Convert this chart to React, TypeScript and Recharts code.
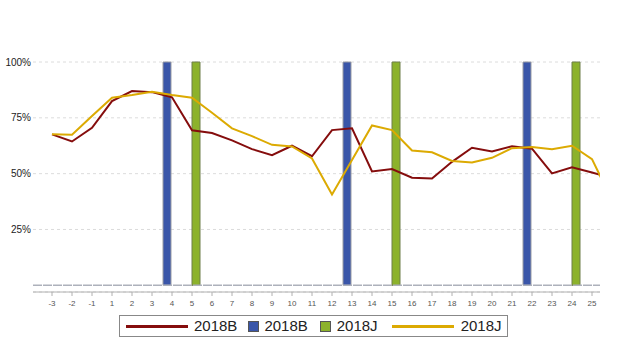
import {
  Bar,
  CartesianGrid,
  ComposedChart,
  Legend,
  Line,
  ReferenceLine,
  XAxis,
  YAxis,
} from "recharts";

// x categories (the last one, "26", sits just past the right edge and is clipped)
const categories = [
  "-3", "-2", "-1", "1", "2", "3", "4", "5", "6", "7", "8", "9", "10", "11",
  "12", "13", "14", "15", "16", "17", "18", "19", "20", "21", "22", "23", "24",
  "25", "26",
];

const line2018B = [
  67.6, 64.4, 70.5, 82.5, 87.0, 86.5, 84.2, 69.4, 68.2, 64.9, 61.0, 58.3, 62.5,
  57.8, 69.5, 70.3, 51.0, 52.1, 48.2, 47.8, 55.3, 61.6, 59.9, 62.3, 61.2, 50.1,
  52.9, 50.5, 48.0,
];

const bar2018B = [
  0, 0, 0, 0, 0, 0, 100, 0, 0, 0, 0, 0, 0, 0, 0, 100, 0, 0, 0, 0, 0, 0, 0, 0,
  100, 0, 0, 0, 0,
];

const bar2018J = [
  0, 0, 0, 0, 0, 0, 0, 100, 0, 0, 0, 0, 0, 0, 0, 0, 0, 100, 0, 0, 0, 0, 0, 0, 0,
  0, 100, 0, 0,
];

const line2018J = [
  67.6, 67.4, 75.8, 84.0, 85.2, 86.7, 85.2, 84.0, 77.3, 70.3, 66.8, 62.9, 62.2,
  56.8, 40.7, 56.1, 71.6, 69.5, 60.4, 59.6, 55.7, 55.0, 57.1, 61.4, 61.9, 60.9,
  62.5, 56.5, 38.0,
];

const yTicks = [25, 50, 75, 100];

const RED = "#850d0d";
const BLUE = "#3a56a9";
const GREEN = "#8cb22b";
const YELLOW = "#dcaa02";
const FONT = "'Liberation Sans', Arial, sans-serif";

const data = categories.map((label, i) => ({
  idx: i,
  label,
  line2018B: line2018B[i],
  bar2018B: bar2018B[i],
  bar2018J: bar2018J[i],
  line2018J: line2018J[i],
}));

const xTicks = categories.slice(0, 28).map((_, i) => i);

const legendItems = [
  { name: "2018B", color: RED, kind: "line", gap: 11 },
  { name: "2018B", color: BLUE, kind: "box", gap: 12 },
  { name: "2018J", color: GREEN, kind: "box", gap: 14 },
  { name: "2018J", color: YELLOW, kind: "line", gap: 0 },
];

const LegendBox = () => (
  <div
    style={{
      display: "flex",
      alignItems: "center",
      boxSizing: "border-box",
      height: 22,
      border: "1px solid #888",
      padding: "0 5px 0 6px",
      fontFamily: FONT,
      fontSize: 15,
      color: "#222",
      background: "#fff",
    }}
  >
    {legendItems.map((it, i) => (
      <div
        key={i}
        style={{ display: "flex", alignItems: "center", marginRight: it.gap }}
      >
        {it.kind === "line" ? (
          <span
            style={{
              display: "inline-block",
              width: 62,
              height: 3,
              background: it.color,
              marginRight: it.name === "2018J" ? 7 : 6,
            }}
          />
        ) : (
          <span
            style={{
              display: "inline-block",
              boxSizing: "border-box",
              width: 11,
              height: 11,
              background: it.color,
              border: "1px solid #555",
              marginRight: it.color === BLUE ? 5 : 6,
            }}
          />
        )}
        <span style={{ lineHeight: "20px" }}>{it.name}</span>
      </div>
    ))}
  </div>
);

export default function App() {
  return (
    <div style={{ position: "absolute", left: 0, top: 0, background: "#fff" }}>
      <ComposedChart
        width={630}
        height={358}
        data={data}
        margin={{ top: 62, right: 30, left: 0, bottom: 24 }}
        barGap={1}
      >
        <CartesianGrid vertical={false} strokeDasharray="3 3" stroke="#dcdcdc" />
        <XAxis
          type="number"
          dataKey="idx"
          domain={[-0.95, 27.4]}
          allowDataOverflow
          ticks={xTicks}
          interval={0}
          tickFormatter={(i: number) => categories[i]}
          height={20}
          tickSize={4}
          tickMargin={4}
          stroke="#b0b0b0"
          tick={{ fill: "#555", fontSize: 8, fontFamily: FONT }}
        />
        <YAxis
          width={33}
          domain={[-3, 100]}
          ticks={yTicks}
          tickFormatter={(v: number) => `${v}%`}
          axisLine={false}
          tickLine={false}
          tickSize={0}
          tickMargin={2}
          tick={{ fill: "#222", fontSize: 10, fontFamily: FONT }}
        />
        <ReferenceLine y={0} stroke="#adb1bb" strokeWidth={1.5} strokeDasharray="9 1" />
        <Bar
          dataKey="bar2018B"
          name="2018B"
          fill={BLUE}
          stroke="#9a9ca4"
          strokeWidth={1}
          barSize={8}
          isAnimationActive={false}
        />
        <Bar
          dataKey="bar2018J"
          name="2018J"
          fill={GREEN}
          stroke="#6f7f4a"
          strokeWidth={1}
          barSize={8}
          isAnimationActive={false}
        />
        <Line
          type="linear"
          dataKey="line2018B"
          name="2018B"
          stroke={RED}
          strokeWidth={2}
          dot={false}
          isAnimationActive={false}
        />
        <Line
          type="linear"
          dataKey="line2018J"
          name="2018J"
          stroke={YELLOW}
          strokeWidth={2}
          dot={false}
          isAnimationActive={false}
        />
        <Legend
          content={() => <LegendBox />}
          wrapperStyle={{ left: 119, top: 315, width: 389, height: 22 }}
        />
      </ComposedChart>
    </div>
  );
}
